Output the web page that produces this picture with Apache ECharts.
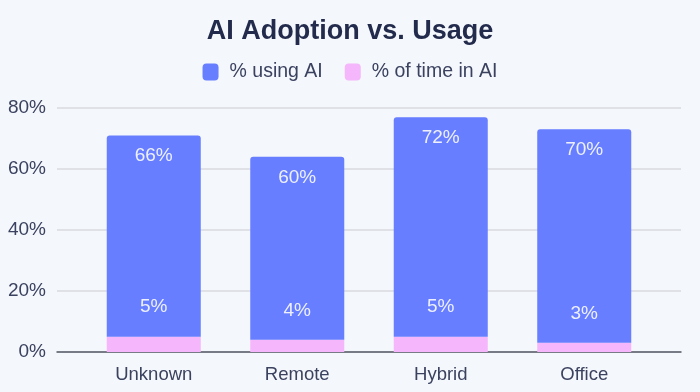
<!DOCTYPE html>
<html>
<head>
<meta charset="utf-8">
<script src="https://cdn.jsdelivr.net/npm/echarts@6/dist/echarts.min.js"></script>
<style>
html,body{margin:0;padding:0;background:#f4f7fb;}
#c{width:700px;height:392px;}
</style>
</head>
<body>
<div id="c"></div>
<script>
const categories = ['Unknown', 'Remote', 'Hybrid', 'Office'];
const timeInAI = [5, 4, 5, 3];
const usingAI = [66, 60, 72, 70];
const yTicks = [0, 20, 40, 60, 80];

const FONT = "'Liberation Sans', Arial, Helvetica, sans-serif";
const chart = echarts.init(document.getElementById('c'));
chart.setOption({
  backgroundColor: '#f4f7fb',
  animation: false,
  textStyle: { fontFamily: FONT },
  title: {
    text: 'AI Adoption vs. Usage',
    left: 'center', top: 18, padding: 0,
    textStyle: { fontSize: 27, fontWeight: 'bold', color: '#232b4d', fontFamily: FONT }
  },
  legend: {
    top: 62, left: 'center', padding: 0,
    itemWidth: 16, itemHeight: 17, itemGap: 22,
    icon: 'roundRect',
    textStyle: { fontSize: 19.5, color: '#3b4260', fontFamily: FONT, padding: [0, 0, 0, 6] },
    data: ['% using AI', '% of time in AI']
  },
  grid: [
    { left: 57, right: 19, top: 108, bottom: 40 },
    { left: 82, right: 44, top: 108, bottom: 40 }
  ],
  xAxis: [
    { gridIndex: 0, type: 'value', min: 0, max: 1,
      axisLine: { show: true, lineStyle: { color: '#555a66', width: 1.5 } },
      axisTick: { show: false }, axisLabel: { show: false }, splitLine: { show: false } },
    { gridIndex: 1, type: 'category', data: categories,
      axisLine: { show: false }, axisTick: { show: false },
      axisLabel: { fontSize: 18.5, color: '#3b4260', margin: 13, fontFamily: FONT } }
  ],
  yAxis: [
    { gridIndex: 0, type: 'value', min: yTicks[0], max: yTicks[yTicks.length - 1], interval: 20,
      axisLine: { show: false }, axisTick: { show: false },
      axisLabel: { fontSize: 19, color: '#3b4260', margin: 11, formatter: '{value}%', fontFamily: FONT },
      splitLine: { lineStyle: { color: '#d8dadf', width: 1.5 } } },
    { gridIndex: 1, type: 'value', min: 0, max: 80, show: false }
  ],
  series: [
    {
      name: '% of time in AI', type: 'bar', stack: 'a',
      xAxisIndex: 1, yAxisIndex: 1,
      data: timeInAI, barWidth: 94,
      itemStyle: { color: '#f5b6fb' },
      label: { show: true, position: 'top', distance: 20, formatter: '{c}%',
        fontSize: 19, color: '#eef0ff', fontFamily: FONT }
    },
    {
      name: '% using AI', type: 'bar', stack: 'a',
      xAxisIndex: 1, yAxisIndex: 1,
      data: usingAI, barWidth: 94,
      itemStyle: { color: '#667eff', borderRadius: [3, 3, 0, 0] },
      label: { show: true, position: 'insideTop', distance: 11, formatter: '{c}%',
        fontSize: 19, color: '#eef0ff', fontFamily: FONT }
    }
  ]
});
</script>
</body>
</html>
